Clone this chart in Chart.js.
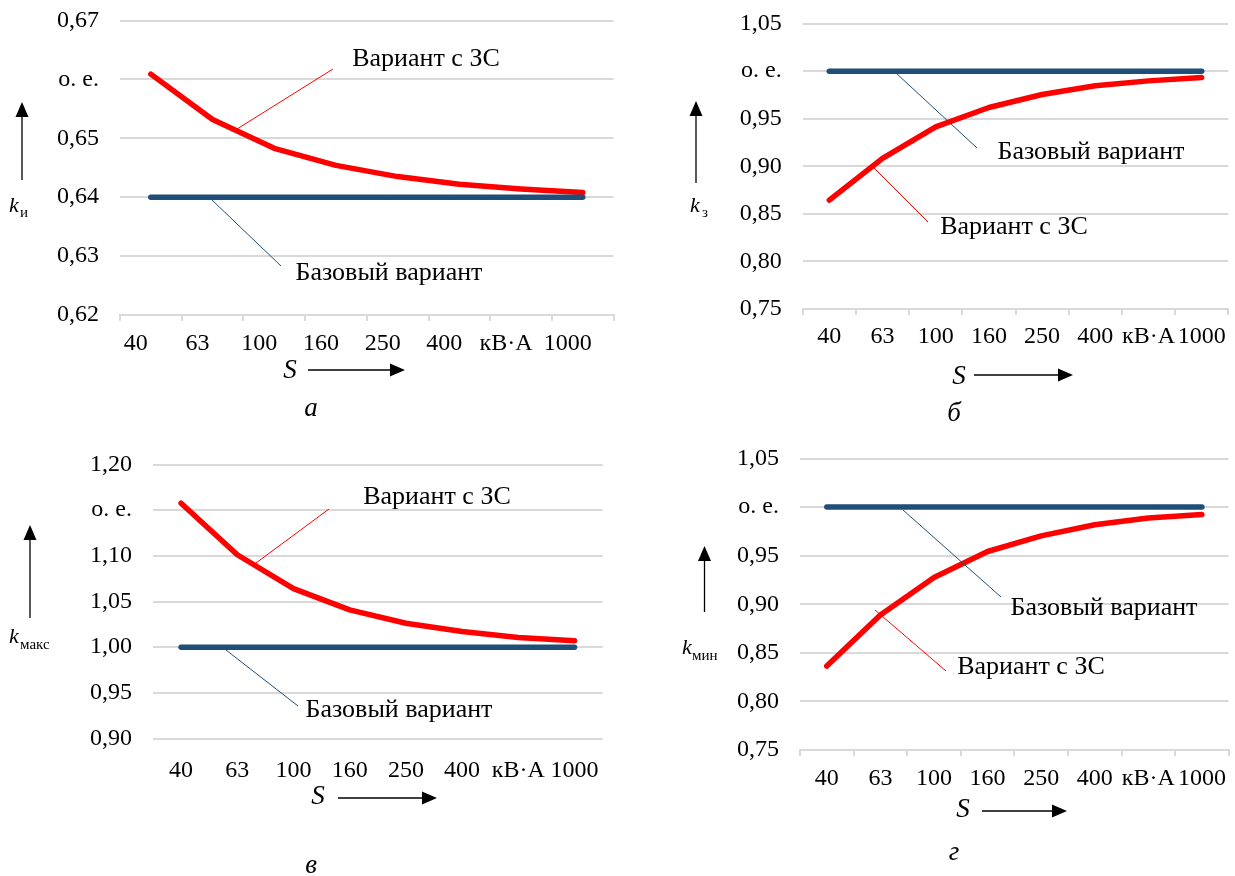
<!DOCTYPE html>
<html>
<head>
<meta charset="utf-8">
<script src="https://cdn.jsdelivr.net/npm/chart.js@4.4.1/dist/chart.umd.min.js"></script>
<style>
  body { margin: 0; background: #fff; }
  canvas { position: absolute; left: 0; top: 0; }
</style>
</head>
<body>
<canvas id="chartA" width="1235" height="876"></canvas>
<canvas id="chartB" width="1235" height="876"></canvas>
<canvas id="chartC" width="1235" height="876"></canvas>
<canvas id="chartD" width="1235" height="876"></canvas>
<script>
// S, кВ·А (630 is shown as the unit label)
const categories = [40, 63, 100, 160, 250, 400, 630, 1000];
const tickLabels = ['40', '63', '100', '160', '250', '400', 'кВ·А', '1000'];

// а) k_и
const kiZS = [0.6609, 0.6532, 0.6483, 0.6454, 0.6435, 0.6422, 0.6414, 0.6408];
const kiBase = [0.64, 0.64, 0.64, 0.64, 0.64, 0.64, 0.64, 0.64];
// б) k_з
const kzZS = [0.8645, 0.9083, 0.9415, 0.9618, 0.9755, 0.9846, 0.9898, 0.9933];
const kzBase = [1, 1, 1, 1, 1, 1, 1, 1];
// в) k_макс
const kmaxZS = [1.1576, 1.1012, 1.0641, 1.0408, 1.0262, 1.0171, 1.0106, 1.0069];
const kmaxBase = [1, 1, 1, 1, 1, 1, 1, 1];
// г) k_мин
const kminZS = [0.8364, 0.8890, 0.9275, 0.9543, 0.9704, 0.9818, 0.9887, 0.9924];
const kminBase = [1, 1, 1, 1, 1, 1, 1, 1];

const SERIF = '"Liberation Serif", "Times New Roman", serif';
const RED = '#ff0000';
const BLUE = '#1f4e79';
const GRID = '#d9d9d9';

function drawArrow(ctx, x1, y1, x2, y2) {
    const ang = Math.atan2(y2 - y1, x2 - x1);
    const len = 15, half = 6.5;
    const bx = x2 - len * Math.cos(ang), by = y2 - len * Math.sin(ang);
    ctx.strokeStyle = '#000';
    ctx.fillStyle = '#000';
    ctx.lineWidth = 1.3;
    ctx.beginPath();
    ctx.moveTo(x1, y1);
    ctx.lineTo(bx, by);
    ctx.stroke();
    ctx.beginPath();
    ctx.moveTo(x2, y2);
    ctx.lineTo(bx - half * Math.sin(ang), by + half * Math.cos(ang));
    ctx.lineTo(bx + half * Math.sin(ang), by - half * Math.cos(ang));
    ctx.closePath();
    ctx.fill();
}

function annotationPlugin(spec) {
    return {
        id: 'annotations',
        afterDraw(chart) {
            const ctx = chart.ctx;
            ctx.save();
            spec.leaders.forEach(l => {
                ctx.strokeStyle = l.color;
                ctx.lineWidth = 1;
                ctx.beginPath();
                ctx.moveTo(l.x1, l.y1);
                ctx.lineTo(l.x2, l.y2);
                ctx.stroke();
            });
            spec.arrows.forEach(a => drawArrow(ctx, a.x1, a.y1, a.x2, a.y2));
            spec.texts.forEach(t => {
                ctx.font = t.font;
                ctx.fillStyle = '#000';
                ctx.textAlign = t.align || 'center';
                ctx.textBaseline = t.baseline || 'middle';
                ctx.fillText(t.text, t.x, t.y);
            });
            ctx.restore();
        }
    };
}

function makeChart(id, cfg) {
    const box = cfg.box;
    const xHeight = 40;
    const ctx = document.getElementById(id).getContext('2d');
    return new Chart(ctx, {
        type: 'line',
        data: {
            labels: tickLabels,
            datasets: [{
                label: 'Базовый вариант',
                data: cfg.base,
                borderColor: BLUE,
                borderWidth: 5.5,
                borderCapStyle: 'round',
                borderJoinStyle: 'round',
                pointRadius: 0,
                tension: 0,
                fill: false
            }, {
                label: 'Вариант с ЗС',
                data: cfg.zs,
                borderColor: RED,
                borderWidth: 5.5,
                borderCapStyle: 'round',
                borderJoinStyle: 'round',
                pointRadius: 0,
                tension: 0,
                fill: false
            }]
        },
        options: {
            responsive: false,
            animation: false,
            devicePixelRatio: 1,
            events: [],
            layout: {
                padding: { left: 0, top: box.t, right: 1235 - box.r, bottom: 876 - box.b - xHeight }
            },
            plugins: { legend: { display: false }, tooltip: { enabled: false } },
            scales: {
                x: {
                    type: 'category',
                    offset: true,
                    grid: {
                        display: cfg.xTicks,
                        offset: true,
                        drawOnChartArea: false,
                        drawTicks: true,
                        tickLength: 6,
                        color: GRID,
                        lineWidth: 2
                    },
                    border: { display: cfg.xTicks, color: GRID, width: 2 },
                    ticks: {
                        font: { family: SERIF, size: 24 },
                        color: '#000',
                        padding: cfg.xPad,
                        labelOffset: cfg.labelOffset,
                        autoSkip: false,
                        maxRotation: 0,
                        minRotation: 0
                    },
                    afterFit: s => { s.height = xHeight; s.paddingLeft = 0; s.paddingRight = 0; }
                },
                y: {
                    min: cfg.min,
                    max: cfg.max,
                    grid: { color: GRID, lineWidth: 2, drawTicks: false },
                    border: { display: false },
                    ticks: {
                        stepSize: cfg.step,
                        font: { family: SERIF, size: 24 },
                        color: '#000',
                        padding: 21,
                        callback: v => Math.abs(v - cfg.unitAt) < 1e-6 ? 'о. е.' : v.toFixed(2).replace('.', ',')
                    },
                    afterFit: s => { s.width = box.l; s.paddingTop = 0; s.paddingBottom = 0; }
                }
            }
        },
        plugins: [annotationPlugin(cfg.annot)]
    });
}

const TXT = '26px ' + SERIF;
const ITAL = 'italic 27px ' + SERIF;
const KFONT = 'italic 22px ' + SERIF;
const SUB = '15px ' + SERIF;

makeChart('chartA', {
    box: { l: 120, r: 613.6, t: 20.5, b: 315 },
    min: 0.62, max: 0.67, step: 0.01, unitAt: 0.66,
    zs: kiZS, base: kiBase,
    xTicks: true, xPad: 8, labelOffset: -15,
    annot: {
        leaders: [
            { color: RED, x1: 237, y1: 129, x2: 333, y2: 69 },
            { color: BLUE, x1: 212, y1: 200, x2: 281, y2: 266 }
        ],
        arrows: [
            { x1: 22, y1: 180, x2: 22, y2: 102 },
            { x1: 308, y1: 370, x2: 405, y2: 370 }
        ],
        texts: [
            { text: 'Вариант с ЗС', x: 426, y: 59, font: TXT },
            { text: 'Базовый вариант', x: 389, y: 273, font: TXT },
            { text: 'k', x: 9, y: 212, font: KFONT, align: 'left', baseline: 'alphabetic' },
            { text: 'и', x: 20, y: 217, font: SUB, align: 'left', baseline: 'alphabetic' },
            { text: 'S', x: 290, y: 371, font: ITAL },
            { text: 'а', x: 311, y: 409, font: ITAL }
        ]
    }
});

makeChart('chartB', {
    box: { l: 802.7, r: 1228.3, t: 23.6, b: 309 },
    min: 0.75, max: 1.05, step: 0.05, unitAt: 1.0,
    zs: kzZS, base: kzBase,
    xTicks: true, xPad: 7.5, labelOffset: 0,
    annot: {
        leaders: [
            { color: BLUE, x1: 896, y1: 73, x2: 977, y2: 148 },
            { color: RED, x1: 874, y1: 168, x2: 928, y2: 222 }
        ],
        arrows: [
            { x1: 696, y1: 183, x2: 696, y2: 101 },
            { x1: 974, y1: 375, x2: 1073, y2: 375 }
        ],
        texts: [
            { text: 'Базовый вариант', x: 1091, y: 152, font: TXT },
            { text: 'Вариант с ЗС', x: 1014, y: 227, font: TXT },
            { text: 'k', x: 690, y: 212, font: KFONT, align: 'left', baseline: 'alphabetic' },
            { text: 'з', x: 702, y: 217, font: SUB, align: 'left', baseline: 'alphabetic' },
            { text: 'S', x: 959, y: 377, font: ITAL },
            { text: 'б', x: 954, y: 414, font: ITAL }
        ]
    }
});

makeChart('chartC', {
    box: { l: 153, r: 602.6, t: 464.5, b: 738.5 },
    min: 0.90, max: 1.20, step: 0.05, unitAt: 1.15,
    zs: kmaxZS, base: kmaxBase,
    xTicks: false, xPad: 12, labelOffset: 0,
    annot: {
        leaders: [
            { color: RED, x1: 256, y1: 563, x2: 329, y2: 509 },
            { color: BLUE, x1: 226, y1: 650, x2: 298, y2: 706 }
        ],
        arrows: [
            { x1: 30, y1: 618, x2: 30, y2: 525 },
            { x1: 338, y1: 798, x2: 437, y2: 798 }
        ],
        texts: [
            { text: 'Вариант с ЗС', x: 437, y: 497, font: TXT },
            { text: 'Базовый вариант', x: 399, y: 710, font: TXT },
            { text: 'k', x: 9, y: 643, font: KFONT, align: 'left', baseline: 'alphabetic' },
            { text: 'макс', x: 20, y: 649, font: SUB, align: 'left', baseline: 'alphabetic' },
            { text: 'S', x: 318, y: 797, font: ITAL },
            { text: 'в', x: 311, y: 866, font: ITAL }
        ]
    }
});

makeChart('chartD', {
    box: { l: 800, r: 1228.7, t: 458.5, b: 750 },
    min: 0.75, max: 1.05, step: 0.05, unitAt: 1.0,
    zs: kminZS, base: kminBase,
    xTicks: true, xPad: 8, labelOffset: 0,
    annot: {
        leaders: [
            { color: BLUE, x1: 903, y1: 510, x2: 1001, y2: 597 },
            { color: RED, x1: 875, y1: 610, x2: 946, y2: 671 }
        ],
        arrows: [
            { x1: 704.5, y1: 612, x2: 704.5, y2: 546 },
            { x1: 982, y1: 811, x2: 1067, y2: 811 }
        ],
        texts: [
            { text: 'Базовый вариант', x: 1104, y: 608, font: TXT },
            { text: 'Вариант с ЗС', x: 1031, y: 667, font: TXT },
            { text: 'k', x: 682, y: 654, font: KFONT, align: 'left', baseline: 'alphabetic' },
            { text: 'мин', x: 692, y: 660, font: SUB, align: 'left', baseline: 'alphabetic' },
            { text: 'S', x: 963, y: 810, font: ITAL },
            { text: 'г', x: 954, y: 853, font: ITAL }
        ]
    }
});
</script>
</body>
</html>
